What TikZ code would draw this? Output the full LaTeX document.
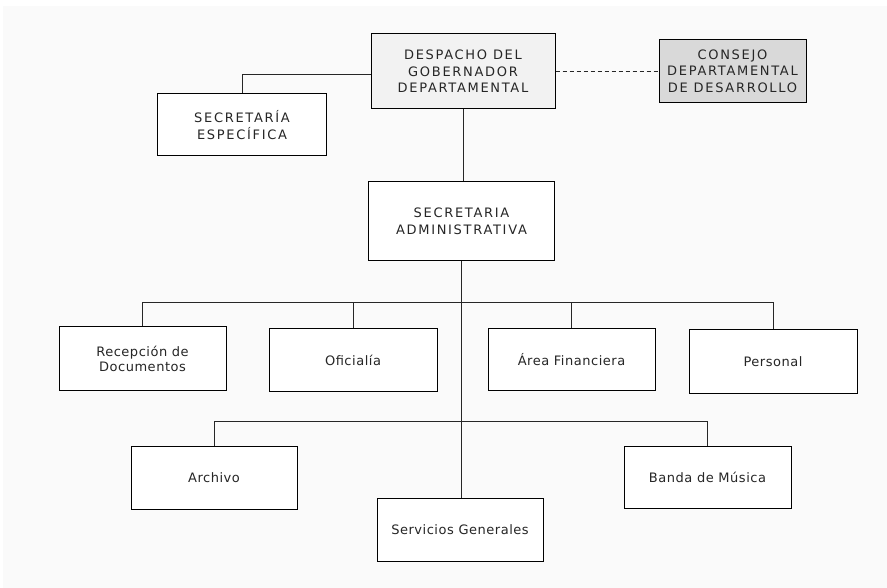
\documentclass[tikz,border=0pt]{standalone}
\usepackage{fontspec}
\setmainfont{DejaVu Sans}
\newfontfamily\capsf[LetterSpace=13]{DejaVu Sans}
\newfontfamily\lowf[LetterSpace=4]{DejaVu Sans}
\definecolor{bgcol}{HTML}{FAFAFA}
\definecolor{despfill}{HTML}{F2F2F2}
\definecolor{consfill}{HTML}{D9D9D9}
\definecolor{linecol}{HTML}{262626}
\begin{document}
\begin{tikzpicture}[x=1pt,y=-1pt,
  box/.style={draw=black,line width=1pt,fill=white,align=center,inner sep=0pt,
    text=black!85},
  capsbox/.style={box,font=\capsf\fontsize{13}{16.5}\selectfont},
  lowbox/.style={box,font=\lowf\fontsize{13}{15}\selectfont},
  conn/.style={draw=linecol,line width=1pt},
  dconn/.style={conn,dash pattern=on 4pt off 3pt}]
\useasboundingbox (0,0) rectangle (887,588);
\fill[bgcol] (3,6) rectangle (887,588);

% top level
\node[capsbox,fill=despfill,minimum width=184pt,minimum height=75pt] (desp) at (463,71.5)
  {DESPACHO DEL\\GOBERNADOR\\DEPARTAMENTAL};
\node[capsbox,fill=consfill,minimum width=147pt,minimum height=63pt] (cons) at (732.5,71)
  {CONSEJO\\DEPARTAMENTAL\\DE DESARROLLO};
\node[capsbox,minimum width=169pt,minimum height=62pt] (secesp) at (242,125)
  {SECRETARÍA\\ESPECÍFICA};
\node[capsbox,minimum width=186pt,minimum height=79pt] (secadm) at (461.5,221.5)
  {SECRETARIA\\ADMINISTRATIVA};

% first row
\node[lowbox,minimum width=167pt,minimum height=63pt] (recep) at (142.5,358.5)
  {Recepción de\\Documentos};
\node[lowbox,minimum width=168pt,minimum height=62pt] (ofic) at (353,360) {Oficialía};
\node[lowbox,minimum width=167pt,minimum height=61pt] (area) at (571.5,359.5) {Área Financiera};
\node[lowbox,minimum width=168pt,minimum height=63pt] (pers) at (773,361.5) {Personal};

% second row
\node[lowbox,minimum width=166pt,minimum height=63pt] (arch) at (214,477.5) {Archivo};
\node[lowbox,minimum width=166pt,minimum height=63pt] (serv) at (460,529.5) {Servicios Generales};
\node[lowbox,minimum width=167pt,minimum height=62pt] (banda) at (707.5,477) {Banda de Música};

% connectors
\coordinate (bus1) at (0,303);
\coordinate (bus2) at (0,421);
\draw[conn] ([yshift=-3.5pt]desp.west) -| (secesp.north);
\draw[dconn] (desp.east) -- (desp.east -| cons.west);
\draw[conn] (desp.south) -- (desp.south |- secadm.north);
\draw[conn] (secadm.south) -- (secadm.south |- serv.north);
\draw[conn] (recep.north) -- (recep.north |- bus1) -- (pers.north |- bus1) -- (pers.north);
\draw[conn] (ofic.north) -- (ofic.north |- bus1);
\draw[conn] (area.north) -- (area.north |- bus1);
\draw[conn] (arch.north) -- (arch.north |- bus2) -- (banda.north |- bus2) -- (banda.north);
\end{tikzpicture}
\end{document}
